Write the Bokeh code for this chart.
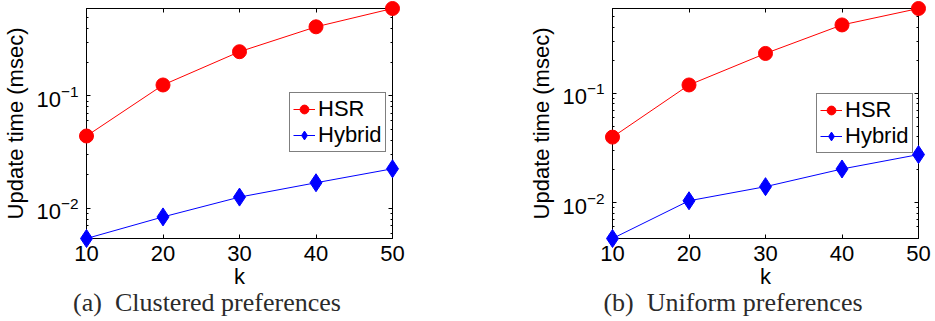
from bokeh.plotting import figure
from bokeh.layouts import row
from bokeh.models import (Range1d, FixedTicker, LinearAxis, LogAxis, Legend,
                          LegendItem, CustomJSTickFormatter)
from bokeh.embed import file_html
from bokeh.resources import INLINE

# number of results k
k = [10, 20, 30, 40, 50]

# update time (msec), clustered preferences
hsr_clustered = [0.044, 0.125, 0.247, 0.411, 0.598]
hybrid_clustered = [0.0054, 0.0084, 0.0126, 0.0169, 0.0225]

# update time (msec), uniform preferences
hsr_uniform = [0.0397, 0.119, 0.231, 0.421, 0.595]
hybrid_uniform = [0.0047, 0.0104, 0.0140, 0.0203, 0.0275]

y_major = [0.01, 0.1]
y_minor = [0.006, 0.007, 0.008, 0.009,
           0.02, 0.03, 0.04, 0.05, 0.06, 0.07, 0.08, 0.09,
           0.2, 0.3, 0.4, 0.5]

captions = ["(a)\u00a0 Clustered preferences", "(b)\u00a0 Uniform preferences"]

SANS = "Liberation Sans"
SERIF = "Liberation Serif"
FS = "22px"
# trailing hard spaces pull the centred caption to the left of the box centre
CAPTION_PAD = "\u00a0" * 10

blank = CustomJSTickFormatter(code="return ''")


def style_axis(ax, labels=True):
    ax.axis_line_color = "black"
    ax.major_tick_in = 4
    ax.major_tick_out = 0
    ax.minor_tick_in = 2
    ax.minor_tick_out = 0
    ax.major_tick_line_color = "black"
    ax.minor_tick_line_color = "black"
    ax.major_label_text_font = SANS
    ax.major_label_text_font_size = FS
    ax.major_label_text_color = "black"
    ax.axis_label_text_font = SANS
    ax.axis_label_text_font_size = FS
    ax.axis_label_text_font_style = "normal"
    ax.axis_label_text_color = "black"
    if not labels:
        ax.formatter = blank
        ax.major_label_standoff = 0


def panel(hsr, hybrid, caption, width, border_left, border_right, legend_xy):
    p = figure(width=width, height=321, y_axis_type="log",
               x_range=Range1d(k[0], k[-1]),
               y_range=Range1d(min(hybrid), max(hsr)),
               output_backend="svg", toolbar_location=None,
               min_border_left=border_left, min_border_right=border_right,
               min_border_top=8, min_border_bottom=83)
    p.background_fill_color = "white"
    p.border_fill_color = "white"
    p.outline_line_color = "black"
    p.outline_line_alpha = 1
    p.grid.visible = False

    p.xaxis.ticker = FixedTicker(ticks=k, minor_ticks=[])
    p.xaxis.axis_label = "k"
    style_axis(p.xaxis[0])
    p.xaxis.major_label_standoff = 7
    p.xaxis.axis_label_standoff = 0

    p.yaxis.ticker = FixedTicker(ticks=y_major, minor_ticks=y_minor)
    p.yaxis.axis_label = "Update time (msec)"
    style_axis(p.yaxis[0])
    p.yaxis.major_label_standoff = 8
    p.yaxis.axis_label_standoff = 5

    # mirrored ticks on the top and right edges of the box
    top = LinearAxis(ticker=FixedTicker(ticks=k, minor_ticks=[]))
    style_axis(top, labels=False)
    p.add_layout(top, "above")
    right = LogAxis(ticker=FixedTicker(ticks=y_major, minor_ticks=y_minor))
    style_axis(right, labels=False)
    p.add_layout(right, "right")

    # sub-figure caption, carried by a bare axis under the "k" axis
    cap = LinearAxis(ticker=FixedTicker(ticks=[], minor_ticks=[]),
                     formatter=blank, axis_label=caption + CAPTION_PAD,
                     axis_line_color=None, major_tick_line_color=None,
                     minor_tick_line_color=None, major_label_standoff=0,
                     axis_label_standoff=-4, axis_label_align="center",
                     axis_label_text_font=SERIF,
                     axis_label_text_font_size="26px",
                     axis_label_text_font_style="normal",
                     axis_label_text_color="#2b2b2b")
    p.add_layout(cap, "below")

    # markers sit on the overlay level so the ones on the box edge stay whole
    l1 = p.line(k, hsr, line_color="red", line_width=1)
    m1 = p.scatter(k, hsr, marker="circle", size=14, fill_color="red",
                   line_color="red", level="overlay")
    l2 = p.line(k, hybrid, line_color="blue", line_width=1)
    m2 = p.scatter(k, hybrid, marker="diamond", size=18, fill_color="blue",
                   line_color="blue", level="overlay")

    legend = Legend(items=[LegendItem(label="HSR", renderers=[l1, m1]),
                           LegendItem(label="Hybrid", renderers=[l2, m2])],
                    location=legend_xy, orientation="vertical",
                    label_text_font=SANS, label_text_font_size=FS,
                    label_text_color="black",
                    glyph_width=22, glyph_height=26, label_height=26,
                    label_standoff=3, spacing=0, padding=3, margin=0,
                    border_line_color="black", border_line_width=1,
                    background_fill_color="white", background_fill_alpha=1)
    p.add_layout(legend, "center")
    return p


p1 = panel(hsr_clustered, hybrid_clustered, captions[0], 467, 86, 75, (203, 86))
p2 = panel(hsr_uniform, hybrid_uniform, captions[1], 468, 145, 17, (204, 85))

layout = row(p1, p2)
open("out.html", "w").write(file_html(layout, INLINE))
